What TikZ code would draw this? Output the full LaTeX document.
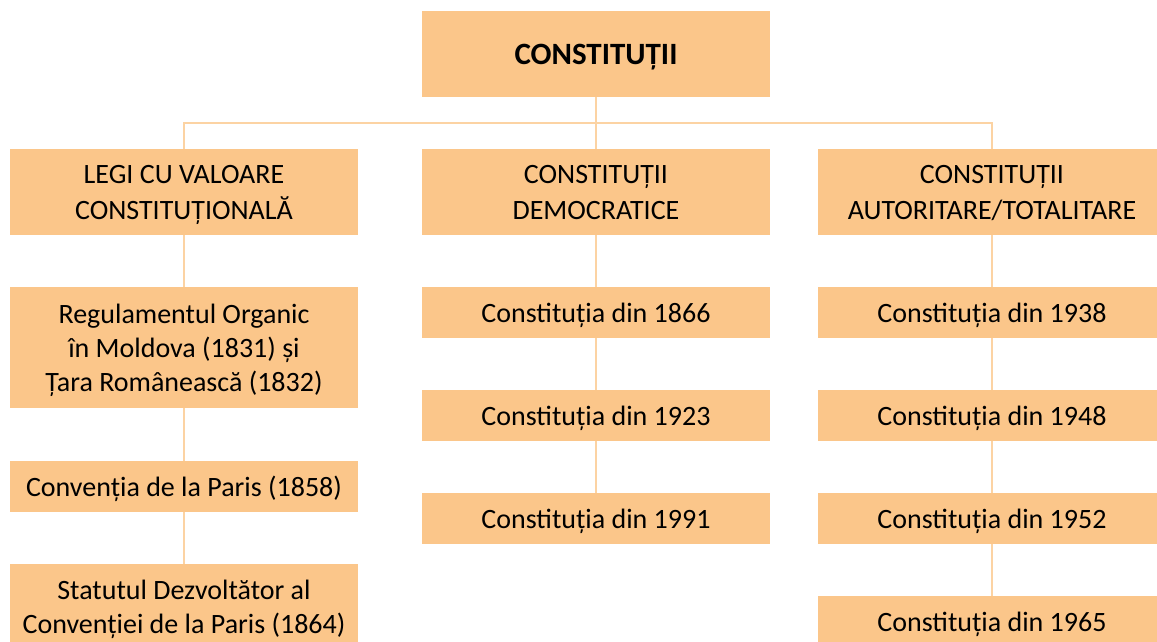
\documentclass[tikz,border=0pt]{standalone}
\usepackage{fontspec}
\setmainfont{Carlito}
\definecolor{boxfill}{RGB}{251,198,138}
\definecolor{linkline}{RGB}{252,211,163}
\newcommand{\boxstrut}{\rule[-0.25em]{0pt}{1.18em}}
\tikzset{box/.style={fill=boxfill, minimum width=348pt, inner sep=0pt, align=center, font=\fontsize{28}{34}\selectfont, execute at begin node=\boxstrut, execute at end node=\boxstrut}}
\tikzset{headbox/.style={box, minimum height=86pt, font=\fontsize{28}{36}\selectfont}}
\tikzset{datebox/.style={box, minimum height=51pt}}
\tikzset{link/.style={linkline, line width=2pt}}

\begin{document}
\begin{tikzpicture}[x=1pt,y=-1pt]

\useasboundingbox (0,0) rectangle (1157,642);
\clip (0,0) rectangle (1157,642);

\node[headbox, font=\fontsize{31}{36}\selectfont\bfseries] (constit) at (596,54) {CONSTITUȚII};

\node[headbox] (legi) at (184,192) {\boxstrut LEGI CU VALOARE\\CONSTITUȚIONALĂ\boxstrut};
\node[headbox] (democ) at (596,192) {\boxstrut CONSTITUȚII\\DEMOCRATICE\boxstrut};
\node[headbox] (autor) at (992,192) {\boxstrut CONSTITUȚII\\AUTORITARE/TOTALITARE\boxstrut};

\node[box, minimum height=120.5pt] (regul) at (184,347.5) {\boxstrut Regulamentul Organic\\în Moldova (1831) și\\Țara Românească (1832)\boxstrut};
\node[datebox] (conv) at (184,486.5) {Convenția de la Paris (1858)};
\node[box, minimum height=86pt] (statut) at (184,607) {\boxstrut Statutul Dezvoltător al\\Convenției de la Paris (1864)\boxstrut};

\node[datebox] (c1866) at (596,312.5) {Constituția din 1866};
\node[datebox] (c1923) at (596,415.5) {Constituția din 1923};
\node[datebox] (c1991) at (596,518.5) {Constituția din 1991};

\node[datebox] (c1938) at (992,312.5) {Constituția din 1938};
\node[datebox] (c1948) at (992,415.5) {Constituția din 1948};
\node[datebox] (c1952) at (992,518.5) {Constituția din 1952};
\node[datebox] (c1965) at (992,621.5) {Constituția din 1965};

\coordinate (hub) at (596,122.7);
\draw[link] (constit.south) -- (hub);
\draw[link] (legi.north) |- (hub) -| (autor.north);
\draw[link] (hub) -- (democ.north);

\draw[link] (legi.south) -- (regul.north);
\draw[link] (regul.south) -- (conv.north);
\draw[link] (conv.south) -- (statut.north);

\draw[link] (democ.south) -- (c1866.north);
\draw[link] (c1866.south) -- (c1923.north);
\draw[link] (c1923.south) -- (c1991.north);

\draw[link] (autor.south) -- (c1938.north);
\draw[link] (c1938.south) -- (c1948.north);
\draw[link] (c1948.south) -- (c1952.north);
\draw[link] (c1952.south) -- (c1965.north);

\end{tikzpicture}
\end{document}
